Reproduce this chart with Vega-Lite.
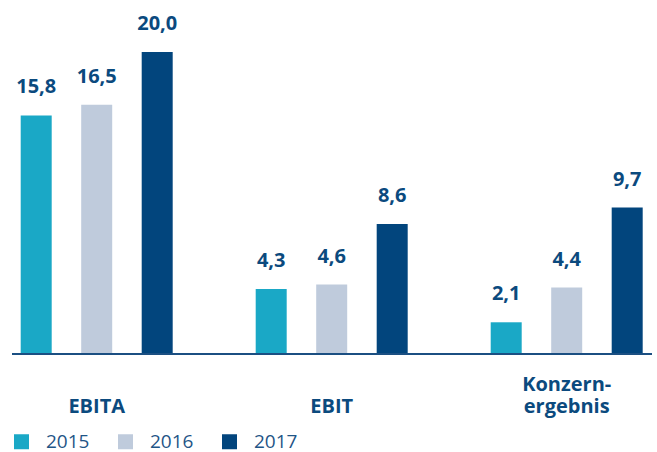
{
  "$schema": "https://vega.github.io/schema/vega-lite/v6.json",
  "width": 640,
  "height": 354,
  "autosize": {"type": "none"},
  "padding": {"left": 12, "top": 0, "right": 5, "bottom": 98},
  "config": {
    "view": {"stroke": null},
    "locale": {"number": {"decimal": ",", "thousands": ".", "grouping": [3], "currency": ["", " €"]}},
    "font": "Open Sans"
  },
  "data": {
    "values": [
      {"group": "EBITA", "year": "2015", "value": 15.8},
      {"group": "EBITA", "year": "2016", "value": 16.5},
      {"group": "EBITA", "year": "2017", "value": 20.0},
      {"group": "EBIT", "year": "2015", "value": 4.3},
      {"group": "EBIT", "year": "2016", "value": 4.6},
      {"group": "EBIT", "year": "2017", "value": 8.6},
      {"group": "Konzern-ergebnis", "year": "2015", "value": 2.1},
      {"group": "Konzern-ergebnis", "year": "2016", "value": 4.4},
      {"group": "Konzern-ergebnis", "year": "2017", "value": 9.7}
    ]
  },
  "encoding": {
    "x": {
      "field": "group",
      "type": "nominal",
      "sort": ["EBITA", "EBIT", "Konzern-ergebnis"],
      "scale": {"range": [-32.8, 672.2], "paddingInner": 0, "paddingOuter": 0},
      "axis": {
        "title": null,
        "labelAngle": 0,
        "domain": false,
        "ticks": false,
        "labelFont": "Open Sans",
        "labelFontWeight": "bold",
        "labelFontSize": 20,
        "labelColor": "#0b4a7e",
        "labelBaseline": "bottom",
        "labelLineHeight": 22,
        "labelPadding": {"condition": {"test": "datum.value == 'Konzern-ergebnis'", "value": 40}, "value": 62},
        "labelExpr": "datum.value == 'Konzern-ergebnis' ? ['Konzern-', 'ergebnis'] : datum.value"
      }
    },
    "xOffset": {
      "field": "year",
      "type": "nominal",
      "scale": {"paddingInner": 0.4876, "paddingOuter": 0.686}
    },
    "y": {
      "field": "value",
      "type": "quantitative",
      "scale": {"domain": [0, 23.44], "nice": false, "zero": true},
      "axis": null
    }
  },
  "layer": [
    {
      "mark": {"type": "bar"},
      "encoding": {
        "color": {
          "field": "year",
          "type": "nominal",
          "scale": {"domain": ["2015", "2016", "2017"], "range": ["#1aa8c6", "#bfcbdc", "#02457d"]},
          "legend": {
            "title": null,
            "orient": "none",
            "direction": "horizontal",
            "legendX": 0,
            "legendY": 432,
            "padding": 0,
            "symbolType": "square",
            "symbolSize": 225,
            "symbolStrokeWidth": 0,
            "labelFont": "Open Sans",
            "labelFontSize": 19,
            "labelColor": "#1f5587",
            "labelOffset": 15,
            "columnPadding": 26
          }
        }
      }
    },
    {
      "mark": {"type": "text", "baseline": "alphabetic", "dy": -22, "font": "Open Sans", "fontWeight": "bold", "fontSize": 20, "color": "#0b4a7e"},
      "encoding": {
        "text": {"field": "value", "type": "quantitative", "format": ".1f"}
      }
    },
    {
      "mark": {"type": "rule", "strokeWidth": 2, "color": "#1b4f82"},
      "encoding": {
        "x": null,
        "xOffset": null,
        "y": {"datum": 0, "type": "quantitative"}
      }
    }
  ]
}
